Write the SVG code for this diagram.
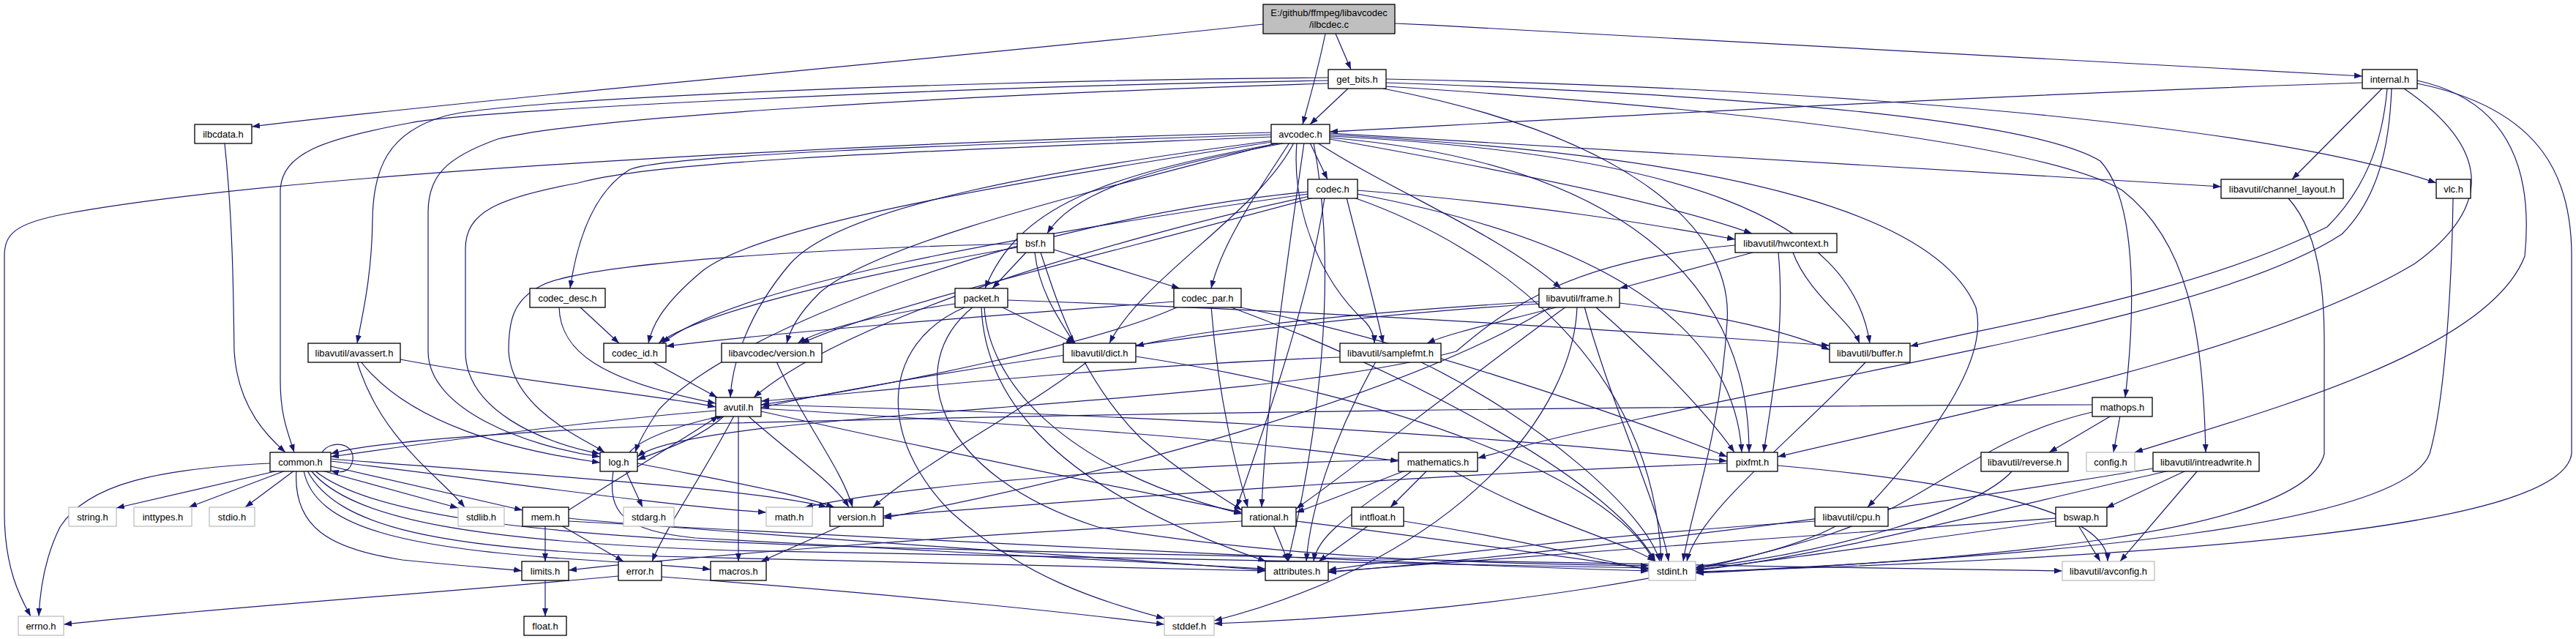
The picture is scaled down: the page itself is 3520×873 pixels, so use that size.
<svg xmlns="http://www.w3.org/2000/svg" width="3520" height="873" viewBox="0 0 3520 873">
<style>
.e{fill:none;stroke:#191970;stroke-width:1.2;marker-end:url(#a)}
.n rect{fill:#fff;stroke:#000;stroke-width:1.3}
.u rect{fill:#fff;stroke:#bfbfbf;stroke-width:1.3}
.r rect{fill:#bfbfbf;stroke:#000;stroke-width:1.3}
text{font-family:"Liberation Sans",Arial,sans-serif;font-size:13px;text-anchor:middle;fill:#000}
</style>
<defs>
<marker id="a" markerWidth="11" markerHeight="8" refX="11" refY="4" orient="auto" markerUnits="userSpaceOnUse"><path d="M0,0 L11,4 L0,8 z" fill="#191970"/></marker>
</defs>
<rect width="3520" height="873" fill="#fff"/>
<g id="edges">
<path class="e" d="M1726,33 C1300,80 700,130 344,173"/>
<path class="e" d="M1811,46 C1800,100 1788,140 1780,170"/>
<path class="e" d="M1825,46 L1846,95"/>
<path class="e" d="M1906,32 C2400,55 2900,85 3228,104"/>
<path class="e" d="M1842,121 L1790,170"/>
<path class="e" d="M1815,106 C1300,110 700,135 610,158 C530,180 510,230 509,300 C508,380 495,430 488,469"/>
<path class="e" d="M1815,110 C1300,118 650,150 560,168 C440,190 385,210 383,260 L383,520 C383,570 395,595 402,618"/>
<path class="e" d="M1815,114 C1300,130 800,160 680,190 C610,215 585,240 585,290 L585,480 C585,560 720,610 820,624"/>
<path class="e" d="M1894,108 C2500,120 3100,170 3329,250"/>
<path class="e" d="M1894,113 C2400,130 2780,165 2870,220 C2925,280 2915,450 2904,543"/>
<path class="e" d="M1894,118 C2400,150 2800,200 2900,260 C2990,330 3010,450 3014,618"/>
<path class="e" d="M1890,121 C2200,180 2370,300 2360,440 C2350,600 2310,700 2300,767"/>
<path class="e" d="M3228,113 C2700,130 2100,165 1817,180"/>
<path class="e" d="M3255,121 L3132,245"/>
<path class="e" d="M3262,121 C3255,200 3230,260 3180,310 C3000,400 2750,440 2610,473"/>
<path class="e" d="M3268,121 C3265,200 3250,270 3200,320 C3000,450 2400,520 2019,626"/>
<path class="e" d="M3285,121 C3400,200 3410,280 3300,360 C3100,480 2700,560 2429,624"/>
<path class="e" d="M3303,110 C3440,140 3460,250 3450,350 C3400,480 3100,560 2917,618"/>
<path class="e" d="M3303,114 C3480,150 3514,250 3514,350 L3514,620 C3500,720 3000,760 2317,781"/>
<path class="e" d="M1737,181 C1200,195 400,235 90,292 C20,305 6,320 6,350 L6,700 C6,780 30,820 42,842"/>
<path class="e" d="M1737,184 C1300,198 900,212 860,232 C815,260 790,320 779,394"/>
<path class="e" d="M1737,187 C1300,205 900,218 790,250 C680,270 636,290 636,340 L636,480 C636,560 740,605 820,620"/>
<path class="e" d="M1740,192 C1450,230 1150,280 1080,360 C1020,430 1000,500 998,543"/>
<path class="e" d="M1744,193 C1450,240 1050,300 960,370 C900,420 890,450 886,469"/>
<path class="e" d="M1750,194 C1500,260 1200,330 1120,400 C1090,430 1080,450 1075,469"/>
<path class="e" d="M1758,195 C1600,225 1470,255 1431,319"/>
<path class="e" d="M1752,195 C1500,240 1390,285 1346,394"/>
<path class="e" d="M1762,195 C1720,260 1670,330 1655,394"/>
<path class="e" d="M1790,195 L1814,245"/>
<path class="e" d="M1768,195 C1720,290 1560,380 1516,469"/>
<path class="e" d="M1772,195 C1765,280 1800,380 1866,440 C1875,450 1878,460 1878,469"/>
<path class="e" d="M1800,195 C1900,260 2050,320 2133,394"/>
<path class="e" d="M1817,190 C2100,240 2300,285 2394,319"/>
<path class="e" d="M1817,186 C2300,210 2530,300 2555,469"/>
<path class="e" d="M1817,188 C2300,230 2390,450 2390,618"/>
<path class="e" d="M1782,195 C1760,350 1730,550 1724,693"/>
<path class="e" d="M1795,195 C1830,380 1800,600 1760,767"/>
<path class="e" d="M1817,184 C2400,215 2650,300 2700,420 C2720,500 2620,620 2552,693"/>
<path class="e" d="M1817,182 C2300,210 2800,240 3035,255"/>
<path class="e" d="M1855,260 C2100,280 2250,305 2371,327"/>
<path class="e" d="M1787,262 C1400,300 1000,450 900,560 C880,590 872,605 868,618"/>
<path class="e" d="M1790,268 C1500,330 1150,440 1030,543"/>
<path class="e" d="M1787,265 C1400,320 1000,390 905,469"/>
<path class="e" d="M1795,270 C1500,350 1200,420 1095,469"/>
<path class="e" d="M1840,270 C1860,350 1880,420 1890,469"/>
<path class="e" d="M1855,265 C2200,330 2370,450 2380,618"/>
<path class="e" d="M1810,270 C1790,400 1740,550 1690,693"/>
<path class="e" d="M1850,270 C2050,340 2260,500 2270,767"/>
<path class="e" d="M1402,345 L1356,394"/>
<path class="e" d="M1440,341 L1612,394"/>
<path class="e" d="M1414,345 C1420,400 1450,440 1468,469"/>
<path class="e" d="M1422,345 C1450,430 1480,520 1560,600 C1620,650 1670,680 1697,697"/>
<path class="e" d="M1390,333 C1100,340 800,360 740,390 C700,410 695,440 695,480 C700,560 800,600 826,618"/>
<path class="e" d="M1390,338 C1150,380 950,430 900,469"/>
<path class="e" d="M1377,410 C1800,425 2200,450 2500,472"/>
<path class="e" d="M1368,419 L1468,469"/>
<path class="e" d="M1305,415 C1200,430 1120,450 1090,469"/>
<path class="e" d="M1345,419 C1350,520 1450,640 1697,702"/>
<path class="e" d="M1341,419 C1345,530 1420,660 1730,767"/>
<path class="e" d="M1320,419 C1200,470 1200,600 1300,700 C1400,790 1500,820 1591,845"/>
<path class="e" d="M1330,419 C1230,500 1280,650 1500,720 C1800,770 2100,770 2253,773"/>
<path class="e" d="M1604,412 C1400,428 1100,450 910,473"/>
<path class="e" d="M1610,419 C1500,470 1200,530 1040,553"/>
<path class="e" d="M1655,419 C1665,550 1690,640 1705,693"/>
<path class="e" d="M1690,419 C1900,460 2200,560 2360,624"/>
<path class="e" d="M1680,419 C1900,500 2200,650 2262,767"/>
<path class="e" d="M2103,412 C1800,430 1620,455 1552,473"/>
<path class="e" d="M2130,419 C2050,440 1980,455 1950,469"/>
<path class="e" d="M2103,415 C1700,440 1200,520 1040,557"/>
<path class="e" d="M2213,414 C2350,430 2450,455 2500,478"/>
<path class="e" d="M2140,419 C2000,520 1850,640 1771,695"/>
<path class="e" d="M2120,419 C1900,550 1500,650 1207,708"/>
<path class="e" d="M2180,419 C2250,480 2330,560 2370,618"/>
<path class="e" d="M2165,419 C2200,550 2270,700 2280,767"/>
<path class="e" d="M2155,419 C2150,560 2000,760 1659,848"/>
<path class="e" d="M2395,345 L2213,394"/>
<path class="e" d="M2450,345 C2470,400 2530,440 2541,469"/>
<path class="e" d="M2430,345 C2440,450 2420,550 2410,618"/>
<path class="e" d="M2371,335 C2150,355 2060,420 1990,480 C1700,560 950,560 871,624"/>
<path class="e" d="M792,419 L846,469"/>
<path class="e" d="M764,419 C765,480 820,520 978,551"/>
<path class="e" d="M488,494 C520,600 600,650 635,693"/>
<path class="e" d="M493,494 C560,580 700,615 820,632"/>
<path class="e" d="M547,491 C700,520 900,540 978,556"/>
<path class="e" d="M891,494 L980,543"/>
<path class="e" d="M1061,494 C1100,580 1150,640 1165,693"/>
<path class="e" d="M1486,494 C1400,560 1250,640 1193,693"/>
<path class="e" d="M1552,487 C1900,540 2200,650 2260,767"/>
<path class="e" d="M1831,488 C1500,500 1150,540 1040,548"/>
<path class="e" d="M1880,494 C1820,600 1790,700 1785,767"/>
<path class="e" d="M1940,494 C2100,570 2250,700 2268,767"/>
<path class="e" d="M2550,494 C2450,600 2320,700 2305,767"/>
<path class="e" d="M978,561 C800,575 550,610 452,624"/>
<path class="e" d="M990,568 C955,600 905,615 871,628"/>
<path class="e" d="M1003,568 C960,650 910,720 891,767"/>
<path class="e" d="M1009,568 L1009,767"/>
<path class="e" d="M1022,568 C1080,620 1140,660 1160,693"/>
<path class="e" d="M1040,562 C1300,620 1600,680 1697,700"/>
<path class="e" d="M1040,558 C1400,580 1700,600 1911,630"/>
<path class="e" d="M1040,553 C1500,565 2000,590 2360,630"/>
<path class="e" d="M2859,553 C2200,555 1500,565 1000,578 C700,588 500,605 452,620"/>
<path class="e" d="M2885,568 L2800,618"/>
<path class="e" d="M2897,568 L2888,618"/>
<path class="e" d="M2859,563 C2700,600 2650,680 2500,730 C2400,760 2350,770 2317,775"/>
<path class="e" d="M369,633 C220,640 120,660 82,720 C62,760 55,800 53,842"/>
<path class="e" d="M380,643 L159,694"/>
<path class="e" d="M390,643 L258,693"/>
<path class="e" d="M402,643 L335,693"/>
<path class="e" d="M440,643 L626,694"/>
<path class="e" d="M452,637 L714,697"/>
<path class="e" d="M405,643 C400,720 450,750 550,765 C650,775 700,778 713,780"/>
<path class="e" d="M452,630 C700,660 900,690 1047,700"/>
<path class="e" d="M452,627 C750,650 1050,670 1130,693"/>
<path class="e" d="M420,643 C460,720 600,750 900,760 C1300,772 1600,778 1729,780"/>
<path class="e" d="M415,643 C430,720 550,750 800,765 C900,772 950,775 971,778"/>
<path class="e" d="M425,643 C480,710 650,740 1000,752 C1600,765 2100,772 2253,776"/>
<path class="e" d="M430,643 C500,700 700,730 1100,745 C1800,765 2500,775 2818,780"/>
<path class="e" d="M440,618 C452,600 485,605 482,628 C480,642 470,648 452,643"/>
<path class="e" d="M855,643 L878,693"/>
<path class="e" d="M860,618 C880,595 950,575 990,568"/>
<path class="e" d="M871,633 C980,655 1080,672 1140,693"/>
<path class="e" d="M838,643 C830,700 850,725 950,735 C1300,755 1600,770 1729,777"/>
<path class="e" d="M1950,643 L1900,693"/>
<path class="e" d="M1920,643 C1850,670 1800,690 1771,700"/>
<path class="e" d="M1930,643 C1850,700 1800,730 1795,767"/>
<path class="e" d="M1985,643 C2100,710 2220,740 2262,767"/>
<path class="e" d="M1911,628 C1600,635 1250,660 1100,693"/>
<path class="e" d="M2429,636 C2700,660 2880,700 2880,767"/>
<path class="e" d="M2360,633 C1900,650 1400,690 1207,705"/>
<path class="e" d="M2750,643 C2700,700 2500,755 2317,776"/>
<path class="e" d="M2987,643 L2878,694"/>
<path class="e" d="M3003,643 L2897,767"/>
<path class="e" d="M2942,640 C2700,680 2300,740 1815,782"/>
<path class="e" d="M2965,643 C2750,690 2500,760 2317,779"/>
<path class="e" d="M745,718 L745,767"/>
<path class="e" d="M767,718 L852,767"/>
<path class="e" d="M777,697 C850,650 950,590 982,568"/>
<path class="e" d="M777,708 C1000,730 1500,760 1729,779"/>
<path class="e" d="M777,712 C1300,740 1900,770 2253,780"/>
<path class="e" d="M1150,718 L1040,767"/>
<path class="e" d="M1740,718 L1760,767"/>
<path class="e" d="M1697,712 C1300,730 900,765 777,779"/>
<path class="e" d="M1771,712 C2000,740 2200,770 2253,777"/>
<path class="e" d="M1870,718 L1802,767"/>
<path class="e" d="M1918,712 C2100,740 2200,770 2253,778"/>
<path class="e" d="M2480,712 C2200,730 1900,765 1815,779"/>
<path class="e" d="M2510,718 C2400,780 2000,840 1659,852"/>
<path class="e" d="M2840,718 L2870,767"/>
<path class="e" d="M2809,708 C2500,730 2000,765 1815,781"/>
<path class="e" d="M2809,712 C2600,740 2400,770 2317,778"/>
<path class="e" d="M745,793 L745,842"/>
<path class="e" d="M845,787 C600,810 300,830 87,853"/>
<path class="e" d="M904,788 C1200,810 1450,835 1591,853"/>
<path class="e" d="M3352,271 C3350,400 3340,550 3320,620 C3280,720 2800,760 2317,782"/>
<path class="e" d="M3127,271 C3180,330 3176,440 3176,500 L3176,620 C3150,730 2700,765 2317,783"/>
<path class="e" d="M307,196 C318,300 319,400 320,480 C325,560 370,600 390,618"/>
</g>
<g id="root" class="r"><rect x="1726" y="6" width="180" height="40"/><text x="1816" y="22">E:/github/ffmpeg/libavcodec</text><text x="1816" y="38">/ilbcdec.c</text></g>
<g id="get_bits" class="n"><rect x="1815" y="95" width="79" height="26"/><text x="1854.5" y="112.5">get_bits.h</text></g>
<g id="internal" class="n"><rect x="3228" y="95" width="75" height="26"/><text x="3265.5" y="112.5">internal.h</text></g>
<g id="ilbcdata" class="n"><rect x="266" y="170" width="78" height="26"/><text x="305" y="187.5">ilbcdata.h</text></g>
<g id="avcodec" class="n"><rect x="1737" y="170" width="80" height="26"/><text x="1777" y="187.5">avcodec.h</text></g>
<g id="codec" class="n"><rect x="1787" y="245" width="68" height="26"/><text x="1821" y="262.5">codec.h</text></g>
<g id="channel_layout" class="n"><rect x="3035" y="245" width="167" height="26"/><text x="3118.5" y="262.5">libavutil/channel_layout.h</text></g>
<g id="vlc" class="n"><rect x="3329" y="245" width="47" height="26"/><text x="3352.5" y="262.5">vlc.h</text></g>
<g id="bsf" class="n"><rect x="1390" y="319" width="50" height="26"/><text x="1415" y="336.5">bsf.h</text></g>
<g id="hwcontext" class="n"><rect x="2371" y="319" width="139" height="26"/><text x="2440.5" y="336.5">libavutil/hwcontext.h</text></g>
<g id="codec_desc" class="n"><rect x="724" y="394" width="103" height="26"/><text x="775.5" y="411.5">codec_desc.h</text></g>
<g id="packet" class="n"><rect x="1305" y="394" width="72" height="26"/><text x="1341" y="411.5">packet.h</text></g>
<g id="codec_par" class="n"><rect x="1604" y="394" width="92" height="26"/><text x="1650" y="411.5">codec_par.h</text></g>
<g id="frame" class="n"><rect x="2103" y="394" width="110" height="26"/><text x="2158" y="411.5">libavutil/frame.h</text></g>
<g id="avassert" class="n"><rect x="421" y="469" width="126" height="26"/><text x="484" y="486.5">libavutil/avassert.h</text></g>
<g id="codec_id" class="n"><rect x="825" y="469" width="85" height="26"/><text x="867.5" y="486.5">codec_id.h</text></g>
<g id="lavc_version" class="n"><rect x="986" y="469" width="137" height="26"/><text x="1054.5" y="486.5">libavcodec/version.h</text></g>
<g id="dict" class="n"><rect x="1453" y="469" width="99" height="26"/><text x="1502.5" y="486.5">libavutil/dict.h</text></g>
<g id="samplefmt" class="n"><rect x="1831" y="469" width="138" height="26"/><text x="1900" y="486.5">libavutil/samplefmt.h</text></g>
<g id="buffer" class="n"><rect x="2500" y="469" width="110" height="26"/><text x="2555" y="486.5">libavutil/buffer.h</text></g>
<g id="avutil" class="n"><rect x="978" y="543" width="62" height="26"/><text x="1009" y="560.5">avutil.h</text></g>
<g id="mathops" class="n"><rect x="2859" y="543" width="82" height="26"/><text x="2900" y="560.5">mathops.h</text></g>
<g id="common" class="n"><rect x="369" y="618" width="83" height="26"/><text x="410.5" y="635.5">common.h</text></g>
<g id="log" class="n"><rect x="820" y="618" width="51" height="26"/><text x="845.5" y="635.5">log.h</text></g>
<g id="mathematics" class="n"><rect x="1911" y="618" width="108" height="26"/><text x="1965" y="635.5">mathematics.h</text></g>
<g id="pixfmt" class="n"><rect x="2360" y="618" width="69" height="26"/><text x="2394.5" y="635.5">pixfmt.h</text></g>
<g id="reverse" class="n"><rect x="2707" y="618" width="119" height="26"/><text x="2766.5" y="635.5">libavutil/reverse.h</text></g>
<g id="config" class="u"><rect x="2851" y="618" width="66" height="26"/><text x="2884" y="635.5">config.h</text></g>
<g id="intreadwrite" class="n"><rect x="2942" y="618" width="145" height="26"/><text x="3014.5" y="635.5">libavutil/intreadwrite.h</text></g>
<g id="string" class="u"><rect x="94" y="693" width="65" height="26"/><text x="126.5" y="710.5">string.h</text></g>
<g id="inttypes" class="u"><rect x="183" y="693" width="79" height="26"/><text x="222.5" y="710.5">inttypes.h</text></g>
<g id="stdio" class="u"><rect x="286" y="693" width="62" height="26"/><text x="317" y="710.5">stdio.h</text></g>
<g id="stdlib" class="u"><rect x="626" y="693" width="63" height="26"/><text x="657.5" y="710.5">stdlib.h</text></g>
<g id="mem" class="n"><rect x="714" y="693" width="63" height="26"/><text x="745.5" y="710.5">mem.h</text></g>
<g id="stdarg" class="u"><rect x="852" y="693" width="69" height="26"/><text x="886.5" y="710.5">stdarg.h</text></g>
<g id="math" class="u"><rect x="1047" y="693" width="63" height="26"/><text x="1078.5" y="710.5">math.h</text></g>
<g id="version" class="n"><rect x="1134" y="693" width="73" height="26"/><text x="1170.5" y="710.5">version.h</text></g>
<g id="rational" class="n"><rect x="1697" y="693" width="74" height="26"/><text x="1734" y="710.5">rational.h</text></g>
<g id="intfloat" class="n"><rect x="1847" y="693" width="71" height="26"/><text x="1882.5" y="710.5">intfloat.h</text></g>
<g id="cpu" class="n"><rect x="2480" y="693" width="100" height="26"/><text x="2530" y="710.5">libavutil/cpu.h</text></g>
<g id="bswap" class="n"><rect x="2809" y="693" width="70" height="26"/><text x="2844" y="710.5">bswap.h</text></g>
<g id="limits" class="n"><rect x="713" y="767" width="64" height="26"/><text x="745" y="784.5">limits.h</text></g>
<g id="error" class="n"><rect x="845" y="767" width="59" height="26"/><text x="874.5" y="784.5">error.h</text></g>
<g id="macros" class="n"><rect x="971" y="767" width="76" height="26"/><text x="1009" y="784.5">macros.h</text></g>
<g id="attributes" class="n"><rect x="1729" y="767" width="86" height="26"/><text x="1772" y="784.5">attributes.h</text></g>
<g id="stdint" class="u"><rect x="2253" y="767" width="64" height="26"/><text x="2285" y="784.5">stdint.h</text></g>
<g id="avconfig" class="u"><rect x="2818" y="767" width="126" height="26"/><text x="2881" y="784.5">libavutil/avconfig.h</text></g>
<g id="errno" class="u"><rect x="25" y="842" width="62" height="26"/><text x="56" y="859.5">errno.h</text></g>
<g id="float" class="n"><rect x="716" y="842" width="58" height="26"/><text x="745" y="859.5">float.h</text></g>
<g id="stddef" class="u"><rect x="1591" y="842" width="68" height="26"/><text x="1625" y="859.5">stddef.h</text></g>
</svg>
